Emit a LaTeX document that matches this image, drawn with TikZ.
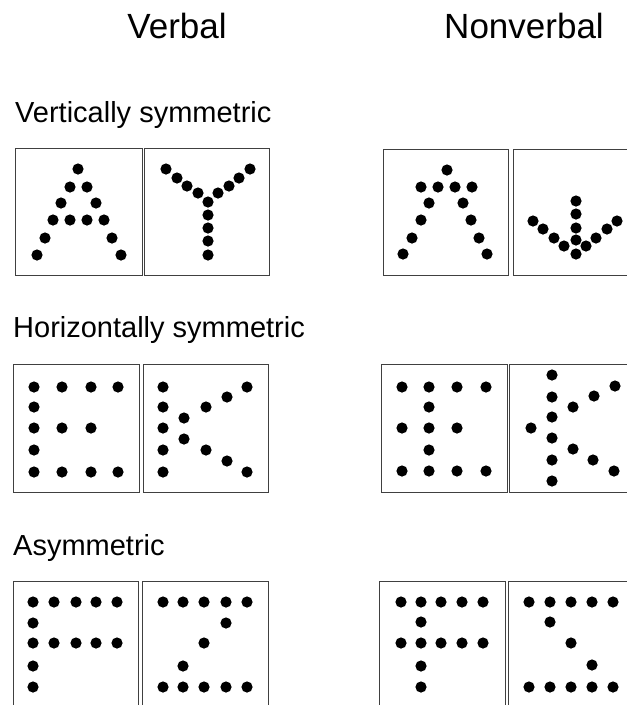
\documentclass[tikz,border=0pt]{standalone}
\usepackage{fontspec}
\setmainfont{Liberation Sans}
\usepackage{tikz}

\tikzset{
  panel/.style={draw=black!75, line width=0.8pt},
  head/.style={anchor=base, inner sep=0pt, font=\fontsize{35}{40}\selectfont},
  rowlabel/.style={anchor=base west, inner sep=0pt, font=\fontsize{29}{34}\selectfont},
}

\begin{document}
\begin{tikzpicture}[x=1pt, y=-1pt]
  \useasboundingbox (0,0) rectangle (627,705);
  \clip (0,0) rectangle (627,705);

  % Column headings
  \node[head] (verbal) at (177,38) {Verbal};
  \node[head] (nonverbal) at (524,38) {Nonverbal};

  % Row labels
  \node[rowlabel] (vsym) at (15,122) {Vertically symmetric};
  \node[rowlabel] (hsym) at (13,337) {Horizontally symmetric};
  \node[rowlabel] (asym) at (13,555) {Asymmetric};

  % Panels
  \draw[panel] (15,148) rectangle (142,275);
  \draw[panel] (144,148) rectangle (269,275);
  \draw[panel] (383,149) rectangle (508,275);
  \draw[panel] (513,149) rectangle (640,275);
  \draw[panel] (13,364) rectangle (139,492);
  \draw[panel] (143,364) rectangle (268,492);
  \draw[panel] (381,364) rectangle (507,492);
  \draw[panel] (509,364) rectangle (640,492);
  \draw[panel] (13,581) rectangle (138,720);
  \draw[panel] (142,581) rectangle (268,720);
  \draw[panel] (379,581) rectangle (505,720);
  \draw[panel] (508,581) rectangle (640,720);

  % Vertically symmetric: A, Y and the two figures
  \foreach \x/\y in {78/169, 70/187, 87/187, 61/203, 96/203, 53/220, 70/220, 87/220,
                  104/220, 45/238, 112/238, 37/255, 121/255}
    \fill (\x,\y) circle (5.6pt);
  \foreach \x/\y in {166/169, 177/178, 187/186, 198/193, 208/202, 218/193, 229/186,
                  239/178, 250/169, 208/215, 208/228, 208/241, 208/255}
    \fill (\x,\y) circle (5.6pt);
  \foreach \x/\y in {447/170, 421/187, 438/187, 455/187, 472/187, 429/203, 463/203,
                  421/220, 471/220, 412/238, 479/238, 403/254, 487/254}
    \fill (\x,\y) circle (5.6pt);
  \foreach \x/\y in {576/201, 576/214, 576/228, 576/240, 576/254, 533/221, 543/229,
                  554/238, 564/246, 586/246, 596/238, 607/229, 617/221}
    \fill (\x,\y) circle (5.6pt);

  % Horizontally symmetric: E, K and the two figures
  \foreach \x/\y in {34/387, 62/387, 91/387, 118/387, 34/407, 34/428, 62/428, 91/428,
                  34/450, 34/472, 62/472, 91/472, 118/472}
    \fill (\x,\y) circle (5.6pt);
  \foreach \x/\y in {163/387, 163/407, 163/428, 163/450, 163/472, 184/418, 206/407,
                  227/397, 247/387, 184/439, 206/450, 227/461, 247/472}
    \fill (\x,\y) circle (5.6pt);
  \foreach \x/\y in {402/387, 429/387, 457/387, 486/387, 429/407, 402/428, 429/428,
                  457/428, 429/450, 402/471, 429/471, 457/471, 486/471}
    \fill (\x,\y) circle (5.6pt);
  \foreach \x/\y in {552/375, 552/397, 552/417, 552/438, 552/460, 552/481, 531/428,
                  573/407, 594/396, 615/386, 573/449, 593/460, 614/471}
    \fill (\x,\y) circle (5.6pt);

  % Asymmetric: F, Z and the two figures
  \foreach \x/\y in {33/602, 54/602, 76/602, 96/602, 117/602, 33/623, 33/643, 54/643,
                  76/643, 96/643, 117/643, 33/666, 33/687}
    \fill (\x,\y) circle (5.6pt);
  \foreach \x/\y in {163/602, 183/602, 204/602, 226/602, 247/602, 226/623, 204/643,
                  183/666, 163/687, 183/687, 204/687, 226/687, 247/687}
    \fill (\x,\y) circle (5.6pt);
  \foreach \x/\y in {401/602, 421/602, 441/602, 462/602, 483/602, 421/622, 401/643,
                  421/643, 441/643, 462/643, 483/643, 421/666, 421/687}
    \fill (\x,\y) circle (5.6pt);
  \foreach \x/\y in {529/602, 550/602, 571/602, 592/602, 613/602, 550/622, 571/643,
                  592/665, 529/687, 550/687, 571/687, 592/687, 613/687}
    \fill (\x,\y) circle (5.6pt);
\end{tikzpicture}
\end{document}
